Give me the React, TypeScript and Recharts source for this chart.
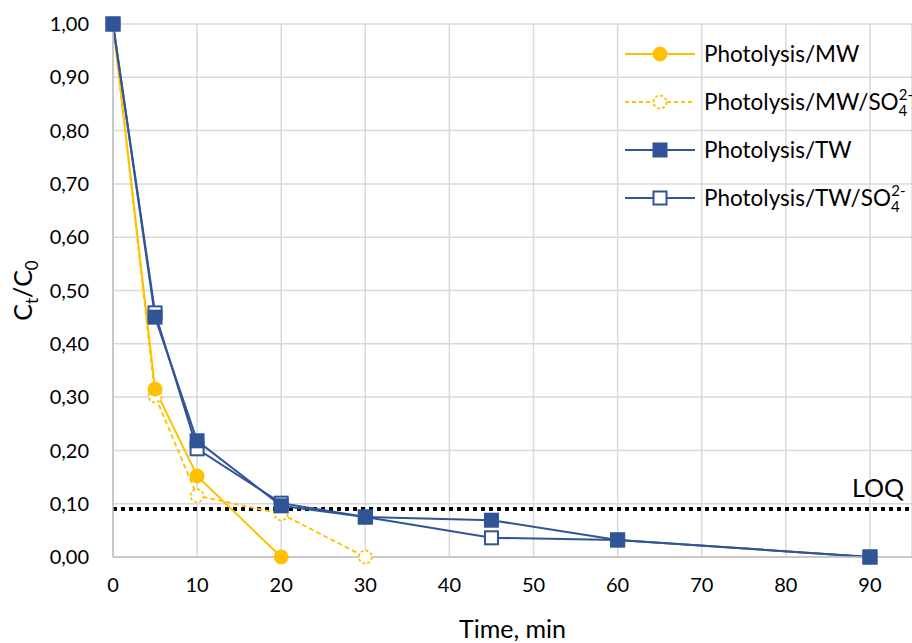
import React from "react"
import { LineChart, Line, XAxis, YAxis, CartesianGrid, ReferenceLine } from "recharts"

const ORANGE = "#FFC000"
const BLUE = "#2F5597"
const FONT = "Lato, 'Open Sans', sans-serif"

// time points (min)
const mwTime = [0, 5, 10, 20]
const mwSo4Time = [0, 5, 10, 20, 30]
const twTime = [0, 5, 10, 20, 30, 45, 60, 90]
const twSo4Time = [0, 5, 10, 20, 30, 45, 60, 90]

// Ct/C0
const mwVals = [1.0, 0.315, 0.152, 0.0]
const mwSo4Vals = [1.0, 0.302, 0.115, 0.081, 0.0]
const twVals = [1.0, 0.45, 0.218, 0.096, 0.075, 0.069, 0.032, 0.0]
const twSo4Vals = [1.0, 0.458, 0.203, 0.101, 0.075, 0.036, 0.032, 0.0]

const xTicks = [0, 10, 20, 30, 40, 50, 60, 70, 80, 90]
const yTicks = [0, 0.1, 0.2, 0.3, 0.4, 0.5, 0.6, 0.7, 0.8, 0.9, 1.0]
const LOQ = 0.09

const toPoints = (t: number[], v: number[]) => t.map((x, i) => ({ t: x, v: v[i] }))

const mwData = toPoints(mwTime, mwVals)
const mwSo4Data = toPoints(mwSo4Time, mwSo4Vals)
const twData = toPoints(twTime, twVals)
const twSo4Data = toPoints(twSo4Time, twSo4Vals)

const circleDot = (filled: boolean) => (p: any) => (
  <circle
    key={"c" + p.index}
    cx={p.cx}
    cy={p.cy}
    r={filled ? 7 : 6.5}
    fill={filled ? ORANGE : "#fff"}
    stroke={ORANGE}
    strokeWidth={filled ? 1 : 1.8}
    strokeDasharray={filled ? undefined : "3 2"}
  />
)

const squareDot = (filled: boolean) => (p: any) => (
  <rect
    key={"s" + p.index}
    x={p.cx - 6.5}
    y={p.cy - 6.5}
    width={13}
    height={13}
    fill={filled ? BLUE : "#fff"}
    stroke={BLUE}
    strokeWidth={2}
  />
)

const SO4 = () => (
  <>
    <tspan>SO</tspan>
    <tspan fontSize={15} dy={6}>4</tspan>
    <tspan fontSize={15} dx={-8.5} dy={-16}>2-</tspan>
  </>
)

const legendRows = [
  { label: "Photolysis/MW", color: ORANGE, dash: undefined, mark: "circle", filled: true, so4: false },
  { label: "Photolysis/MW/", color: ORANGE, dash: "4 3", mark: "circle", filled: false, so4: true },
  { label: "Photolysis/TW", color: BLUE, dash: undefined, mark: "square", filled: true, so4: false },
  { label: "Photolysis/TW/", color: BLUE, dash: undefined, mark: "square", filled: false, so4: true },
]

function LegendBox() {
  return (
    <svg width={292} height={200} style={{ display: "block" }}>
      {legendRows.map((r, i) => {
        const y = 24 + i * 48
        return (
          <g key={r.label}>
            <line x1={5} x2={75} y1={y} y2={y} stroke={r.color} strokeWidth={2} strokeDasharray={r.dash} />
            {r.mark === "circle" ? (
              <circle cx={40} cy={y} r={r.filled ? 7 : 6.5} fill={r.filled ? ORANGE : "#fff"} stroke={ORANGE}
                strokeWidth={r.filled ? 1 : 1.8} strokeDasharray={r.filled ? undefined : "3 2"} />
            ) : (
              <rect x={33.5} y={y - 6.5} width={13} height={13} fill={r.filled ? BLUE : "#fff"} stroke={BLUE} strokeWidth={2} />
            )}
            <text x={84} y={y + 8} fontSize={22.5} fontFamily={FONT} fill="#000">
              {r.label}
              {r.so4 ? <SO4 /> : null}
            </text>
          </g>
        )
      })}
    </svg>
  )
}

const fmt = (v: number) => v.toFixed(2).replace(".", ",")

export default function App() {
  return (
    <div style={{ width: 912, height: 643, overflow: "hidden", position: "relative", background: "#fff" }}>
      <style>{`body{margin:0}`}</style>
      <LineChart width={912} height={643} margin={{ top: 24, right: 0, bottom: 0, left: 0 }}>
        <CartesianGrid stroke="#d9d9d9" strokeWidth={1.5} />
        <XAxis
          dataKey="t"
          type="number"
          domain={[0, 95]}
          ticks={xTicks}
          height={86}
          allowDuplicatedCategory={false}
          axisLine={{ stroke: "#bfbfbf", strokeWidth: 1.5 }}
          tickLine={false}
          tickSize={0}
          tickMargin={21}
          tick={{ fontSize: 20, fill: "#000", fontFamily: FONT }}
          label={({ viewBox }: any) => (
            <text x={viewBox.x + viewBox.width / 2} y={638} textAnchor="middle" fontSize={25} fontFamily={FONT} fill="#000">
              Time, min
            </text>
          )}
        />
        <YAxis
          type="number"
          domain={[0, 1]}
          ticks={yTicks}
          width={113}
          tickFormatter={fmt}
          axisLine={{ stroke: "#bfbfbf", strokeWidth: 1.5 }}
          tickLine={false}
          tickSize={0}
          tickMargin={24}
          tick={{ fontSize: 20, fill: "#000", fontFamily: FONT }}
          label={({ viewBox }: any) => {
            const cy = viewBox.y + viewBox.height / 2
            return (
              <text x={32} y={cy} transform={`rotate(-90 32 ${cy})`} textAnchor="middle" fontSize={25} fontFamily={FONT} fill="#000">
                C<tspan fontSize={17} dy={6}>t</tspan>
                <tspan dy={-6}>/C</tspan>
                <tspan fontSize={17} dy={6}>0</tspan>
              </text>
            )
          }}
        />
        <ReferenceLine
          y={LOQ}
          stroke="#000"
          strokeWidth={4}
          strokeDasharray="4 4"
          label={({ viewBox }: any) => (
            <text x={viewBox.x + viewBox.width - 8} y={viewBox.y - 12} textAnchor="end" fontSize={25} fontFamily={FONT} fill="#000">
              LOQ
            </text>
          )}
        />
        <Line data={mwSo4Data} dataKey="v" name="Photolysis/MW/SO4" stroke={ORANGE} strokeWidth={1.8} strokeDasharray="5 3" dot={circleDot(false)} isAnimationActive={false} />
        <Line data={mwData} dataKey="v" name="Photolysis/MW" stroke={ORANGE} strokeWidth={2} dot={circleDot(true)} isAnimationActive={false} />
        <Line data={twSo4Data} dataKey="v" name="Photolysis/TW/SO4" stroke={BLUE} strokeWidth={2} dot={squareDot(false)} isAnimationActive={false} />
        <Line data={twData} dataKey="v" name="Photolysis/TW" stroke={BLUE} strokeWidth={2} dot={squareDot(true)} isAnimationActive={false} />
      </LineChart>
      <div style={{ position: "absolute", left: 620, top: 30, width: 292, height: 200, overflow: "hidden" }}>
        <LegendBox />
      </div>
    </div>
  )
}
